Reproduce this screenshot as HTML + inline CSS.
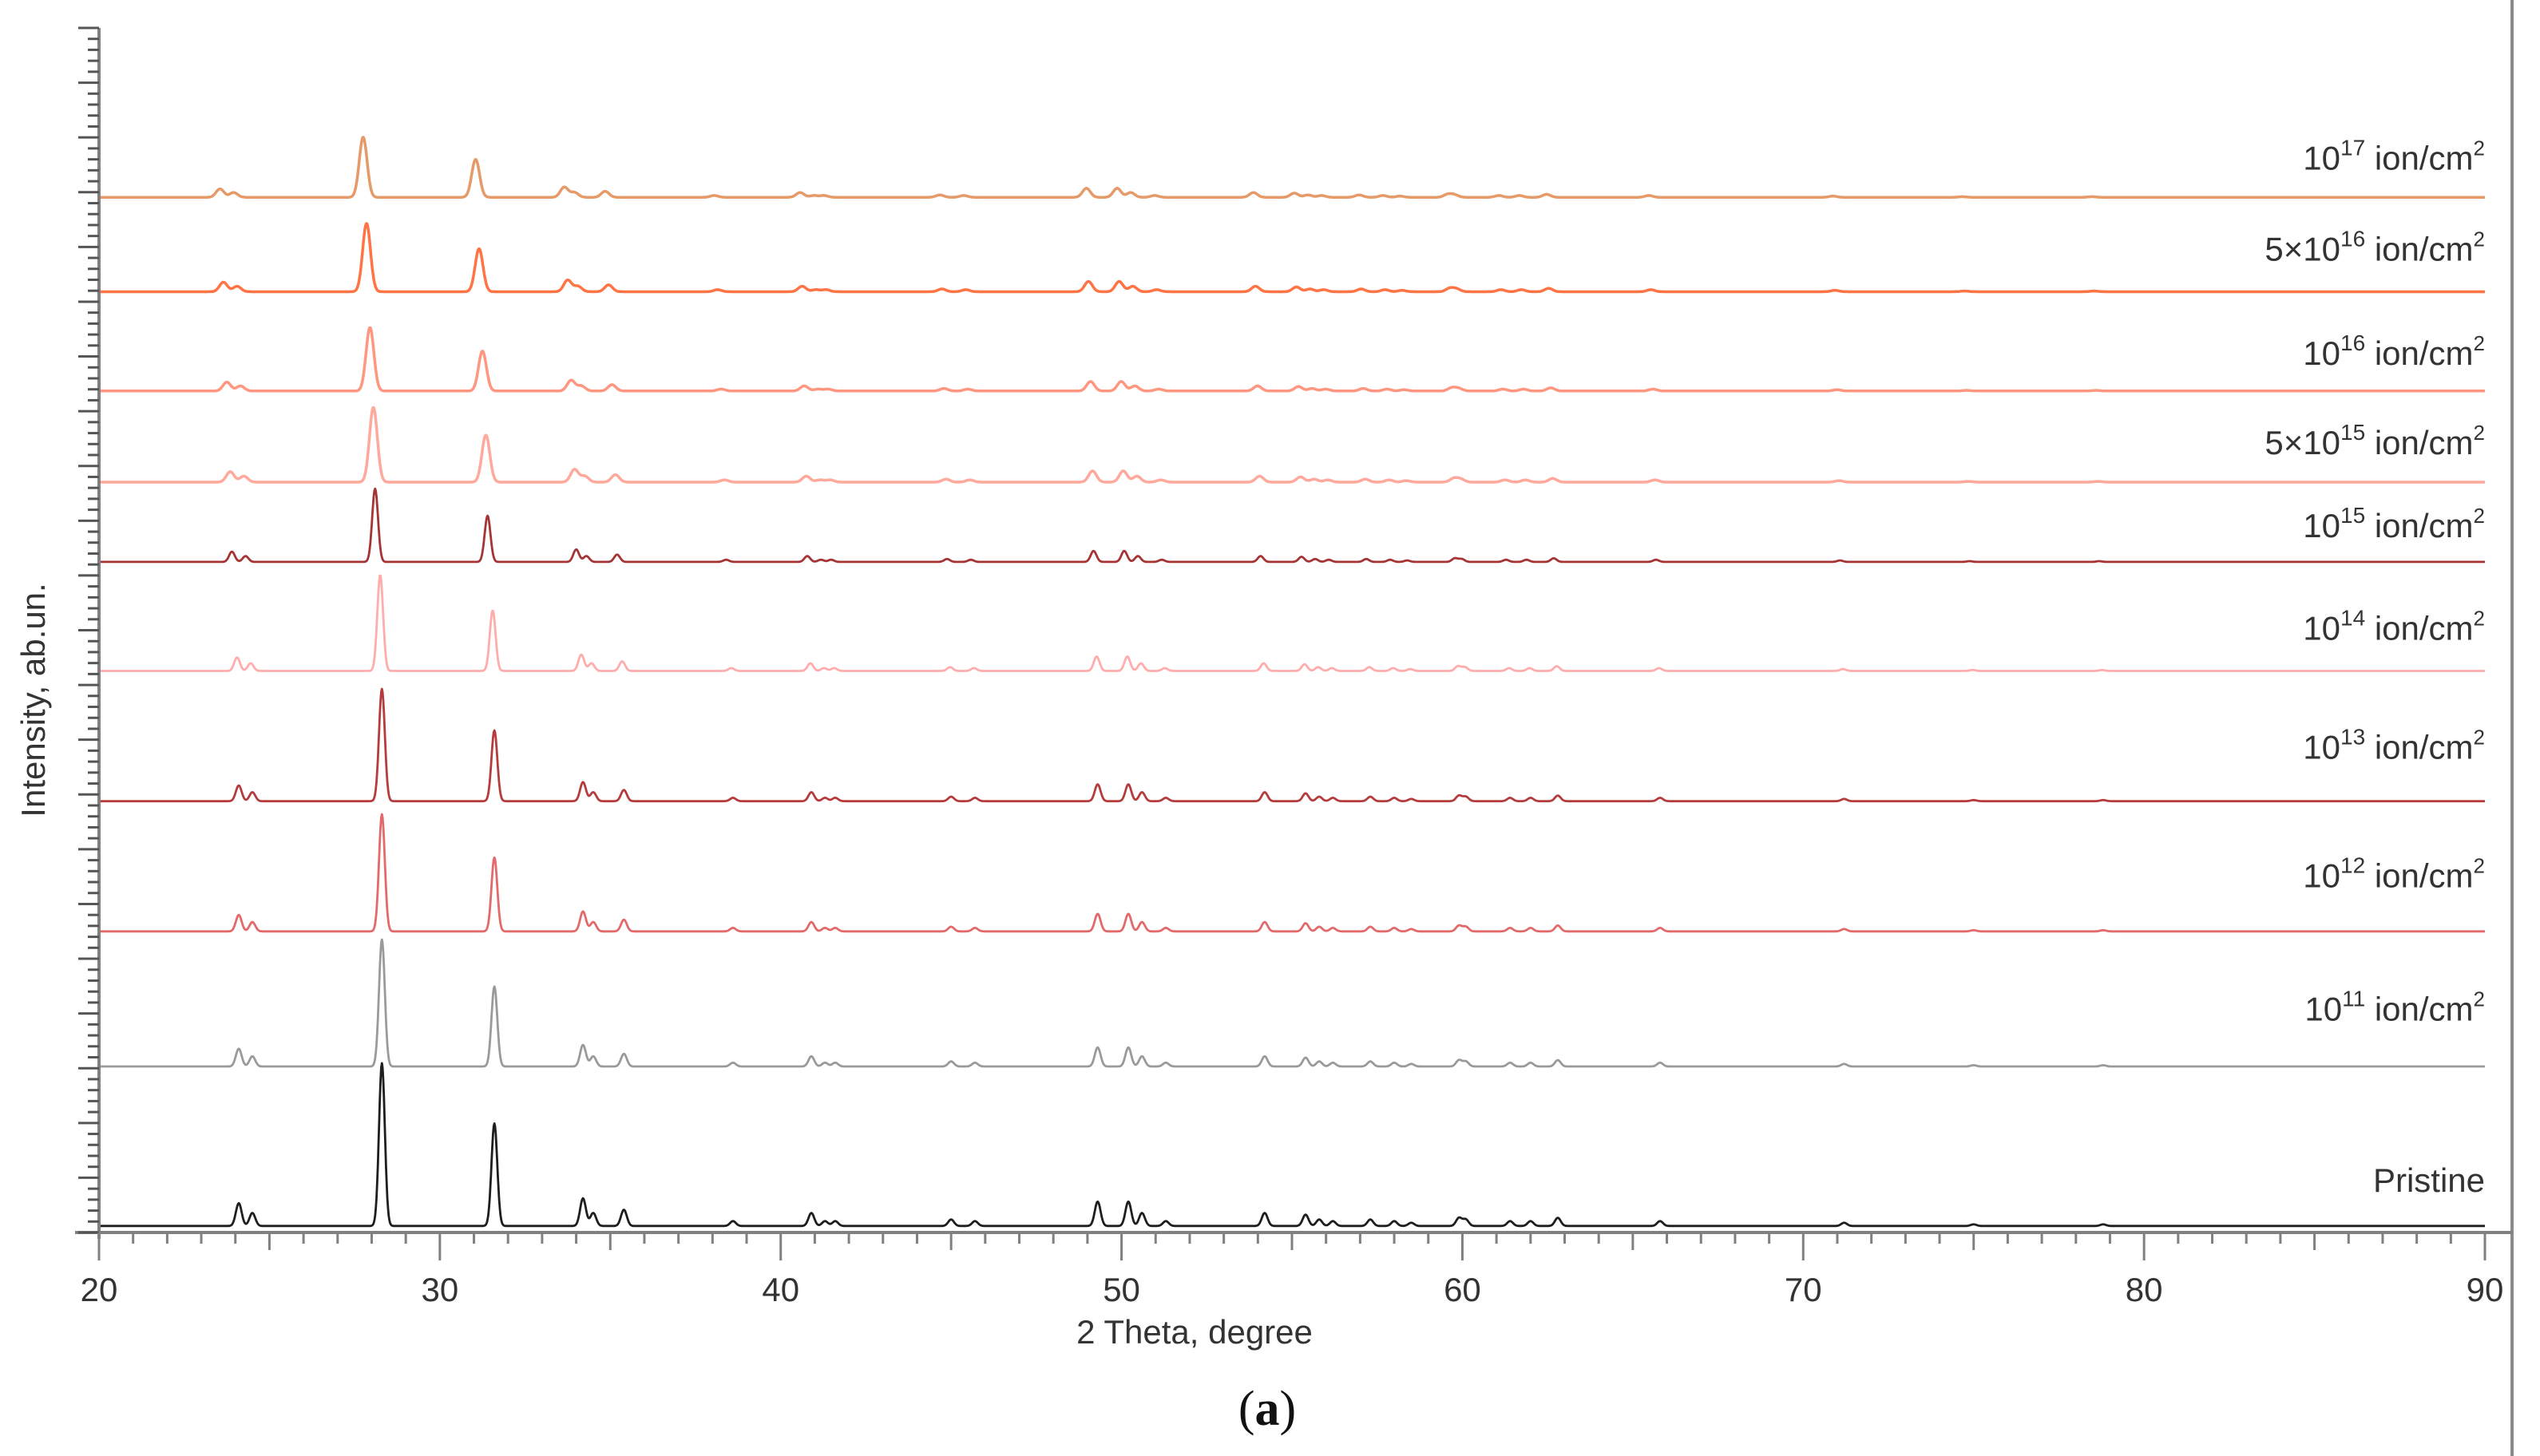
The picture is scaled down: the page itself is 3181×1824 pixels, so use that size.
<!DOCTYPE html>
<html><head><meta charset="utf-8"><style>
html,body{margin:0;padding:0;background:#fff;}
svg{display:block;font-family:"Liberation Sans",sans-serif;}
</style></head><body>
<svg id="chart" width="3181" height="1824" viewBox="0 0 3181 1824" xmlns="http://www.w3.org/2000/svg">
<rect width="3181" height="1824" fill="#fff"/>
<line x1="3146" y1="0" x2="3146" y2="1824" stroke="#8a8a8a" stroke-width="4"/>
<g id="series"></g>
<g id="axes"></g>
<g id="labels"></g>
<text x="1496" y="1683" font-size="42" fill="#333" text-anchor="middle">2 Theta, degree</text>
<text transform="translate(56,877) rotate(-90)" font-size="42" fill="#333" text-anchor="middle">Intensity, ab.un.</text>
<text x="1587" y="1785" font-size="62" fill="#111" text-anchor="middle" font-family="Liberation Serif, serif">(<tspan font-weight="bold">a</tspan>)</text>
</svg>
<script>
// data
const seriesNames = ["Pristine","1e11","1e12","1e13","1e14","1e15","5e15","1e16","5e16","1e17"];
const seriesBase = [4,102,185,265,345,412,461,517,578,636];
const seriesScale = [100,78,72,69,59,45,46,39,42,37];
const seriesShift = [0,0,0,0,-0.05,-0.2,-0.25,-0.35,-0.45,-0.55];
const seriesColors = ["#1e1e1e","#9a9a9a","#e26a6a","#b53c3c","#ffacac","#a63434","#ffa89c","#ff9680","#ff7444","#e59a68"];
const labelMain = ["Pristine","10","10","10","10","10","5×10","10","5×10","10"];
const labelExp = ["","11","12","13","14","15","15","16","16","17"];
const labelYv = [32,137,219,298,371,434,485,540,604,660];
const peakPos = [24.1,24.5,28.3,31.6,34.2,34.5,35.4,38.6,40.9,41.3,41.6,45.0,45.7,49.3,50.2,50.6,51.3,54.2,55.4,55.8,56.2,57.3,58.0,58.5,59.9,60.1,61.4,62.0,62.8,65.8,71.2,75.0,78.8];
const peakRel = [14,8,100,63,17,8,10,3,8,3,3,4,3,15,15,8,3,8,7,4,3,4,3,2,5,4,3,3,5,3,2,1,1];
const xTicks = [20,30,40,50,60,70,80,90];

const NS="http://www.w3.org/2000/svg";
const X0=124, X1=3112, Y0=1544, K=2.039;
const xs = v => X0 + (v-20)*(X1-X0)/70;
const ys = v => Y0 - v*K;
function mk(tag, attrs, parent){const e=document.createElementNS(NS,tag);for(const k in attrs)e.setAttribute(k,attrs[k]);parent.appendChild(e);return e;}

const gS=document.getElementById('series');
for(let s=0;s<seriesNames.length;s++){
  let d="";
  for(let t=20;t<=90.0001;t+=0.02){
    let v=0;
    for(let p=0;p<peakPos.length;p++){
      const c=peakPos[p]+seriesShift[s]*(peakPos[p]<40?1:0.6);
      const w=0.085+(s>=6?0.03:0);
      const dx=(t-c)/w; if(Math.abs(dx)<6) v+=peakRel[p]/100*Math.exp(-0.5*dx*dx);
    }
    const y=seriesBase[s]+seriesScale[s]*v;
    d+=(d?"L":"M")+xs(t).toFixed(1)+" "+ys(y).toFixed(1);
  }
  const path=mk('path',{d:d,fill:"none",stroke:seriesColors[s],"stroke-width":s>=6?3.5:2.8,"stroke-linejoin":"round"},gS);
  
  
}

const gA=document.getElementById('axes');
const ya=mk('line',{x1:X0,y1:35,x2:X0,y2:Y0+8,stroke:"#808080","stroke-width":4},gA);


const xa=mk('line',{x1:X0-30,y1:Y0,x2:3146,y2:Y0,stroke:"#808080","stroke-width":4},gA);


for(let i=0;i<=110;i++){
  const y=Y0-i*(Y0-35)/110;
  const L=(i%5===0)?26:14;
  const tk=mk('line',{x1:X0-L,y1:y,x2:X0,y2:y,stroke:"#555","stroke-width":3},gA);
  
  
}
for(let v=20;v<=90;v++){
  const L=(v%10===0)?35:(v%5===0?22:14);
  const tk=mk('line',{x1:xs(v),y1:Y0,x2:xs(v),y2:Y0+L,stroke:"#808080","stroke-width":3},gA);
  
  
}
xTicks.forEach(v=>{
  const t=mk('text',{x:xs(v),y:1630,"font-size":42,fill:"#333","text-anchor":"middle"},gA);
  t.textContent=v;
  
  
});

const gL=document.getElementById('labels');
for(let s=0;s<seriesNames.length;s++){
  const t=mk('text',{x:3112,y:ys(labelYv[s])+14,"font-size":42,fill:"#333","text-anchor":"end"},gL);
  
  
  if(labelExp[s]){
    t.appendChild(document.createTextNode(labelMain[s]));
    const sup=mk('tspan',{"font-size":28,dy:-18},t); sup.textContent=labelExp[s];
    const r=mk('tspan',{dy:18},t); r.textContent=" ion/cm";
    const s2=mk('tspan',{"font-size":26,dy:-18},t); s2.textContent="2";
  } else t.textContent=labelMain[s];
}
</script>
</body></html>
